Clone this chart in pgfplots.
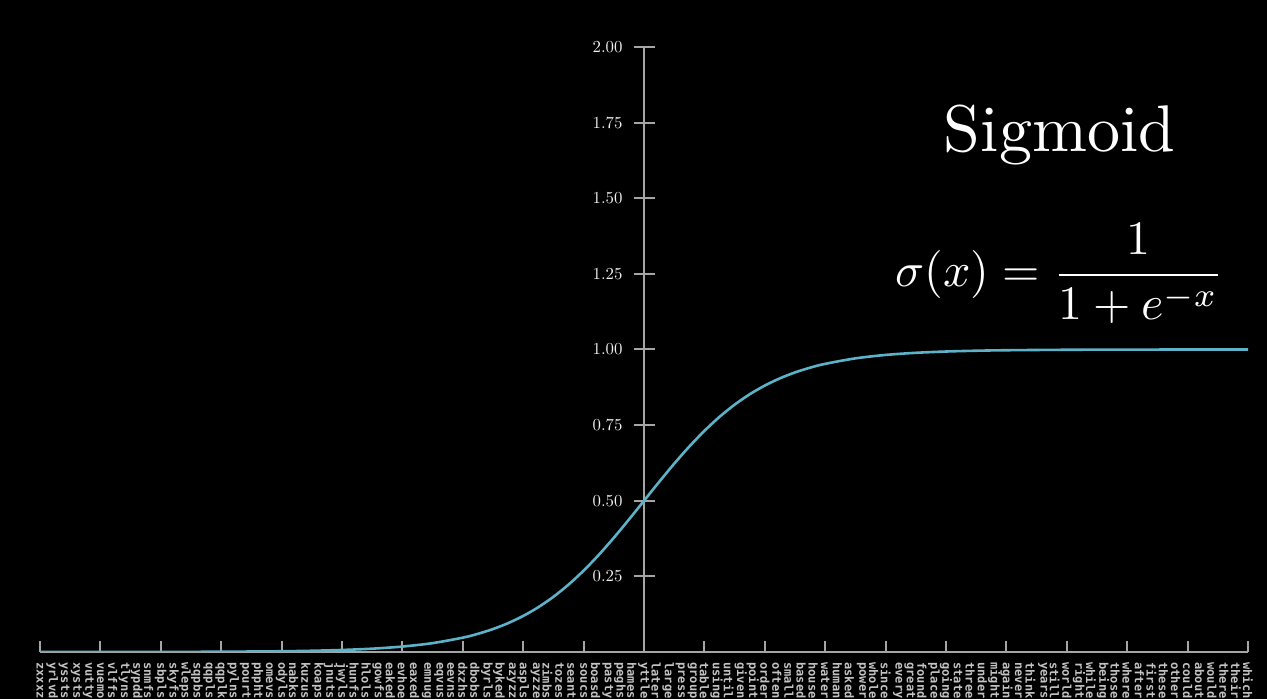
\documentclass[border=0pt]{standalone}
\usepackage{pgfplots}
\pgfplotsset{compat=1.18}
\usepackage{fontspec}
\newfontfamily\wordfont{DejaVu Sans Mono}
\definecolor{sigblue}{RGB}{92,178,200}
\definecolor{axisgray}{RGB}{165,165,165}
\definecolor{wordgray}{RGB}{195,195,195}

\begin{document}
\begin{tikzpicture}
\fill[black] (0,0) rectangle (633.5pt,349.5pt);
\path[use as bounding box] (0,0) rectangle (633.5pt,349.5pt);
\begin{axis}[
  at={(20pt,23.5pt)}, anchor=south west,
  scale only axis, width=604pt, height=302.5pt,
  xmin=-10, xmax=10, ymin=0, ymax=2,
  axis lines=middle,
  axis line style={axisgray, line width=1pt, -},
  every tick/.style={axisgray, line width=1pt},
  hide obscured x ticks=false,
  major tick length=10.5pt,
  minor tick length=5.5pt,
  ytick align=center,
  xtick align=inside,
  major x tick style={draw=none},
  minor xtick={-10,...,10},
  xtick={-10,-9.8,-9.6,-9.4,-9.2,-9,-8.8,-8.6,-8.4,-8.2,
    -8,-7.8,-7.6,-7.4,-7.2,-7,-6.8,-6.6,-6.4,-6.2,
    -6,-5.8,-5.6,-5.4,-5.2,-5,-4.8,-4.6,-4.4,-4.2,
    -4,-3.8,-3.6,-3.4,-3.2,-3,-2.8,-2.6,-2.4,-2.2,
    -2,-1.8,-1.6,-1.4,-1.2,-1,-0.8,-0.6,-0.4,-0.2,
    0,0.2,0.4,0.6,0.8,1,1.2,1.4,1.6,1.8,
    2,2.2,2.4,2.6,2.8,3,3.2,3.4,3.6,3.8,
    4,4.2,4.4,4.6,4.8,5,5.2,5.4,5.6,5.8,
    6,6.2,6.4,6.6,6.8,7,7.2,7.4,7.6,7.8,
    8,8.2,8.4,8.6,8.8,9,9.2,9.4,9.6,9.8,10},
  xticklabels={zxxxz,yrlvd,yssts,xysts,vutty,vuemo,vlffs,tlyns,sypdd,snmfs,
    sbpls,skyfs,wleps,sqpbs,qqpls,qqplk,pylns,pourt,phpht,omevs,
    odyls,nabks,kuzus,koaps,jnuts,jwyls,hunfs,hlols,gowfs,eaked,
    evhoe,eaxed,emnug,eqvus,eevns,dxzhs,dbobs,byrls,byked,azyzz,
    aspls,ayzze,zimbs,tozes,seant,soucs,boasd,pasty,peghs,hames,
    yttle,later,large,press,group,table,using,until,given,point,
    order,often,small,based,house,water,human,asked,power,whole,
    since,every,great,found,place,going,state,three,under,might,
    again,never,think,years,still,world,right,while,being,those,
    where,after,first,these,other,could,about,would,there,their,which},
  xticklabel style={rotate=-90, anchor=west, inner sep=0pt,
    font=\wordfont\bfseries\fontsize{6}{7}\selectfont, text=wordgray},
  xticklabel shift=5pt,
  ytick={0.25,0.5,0.75,1,1.25,1.5,1.75,2},
  yticklabel style={font=\fontsize{10}{12}\selectfont, scale=0.84, text=white!94!black,
    /pgf/number format/fixed, /pgf/number format/fixed zerofill,
    /pgf/number format/precision=2, xshift=-3pt},
]
\addplot[sigblue, line width=1.3pt, smooth] coordinates {
  (-10,0.0000454)(-9,0.000123)(-8,0.000335)(-7,0.000911)(-6,0.002473)
  (-5.5,0.004070)(-5,0.006693)(-4.5,0.010987)(-4,0.017986)(-3.5,0.029312)
  (-3,0.047426)(-2.75,0.060087)(-2.5,0.075858)(-2.25,0.095349)(-2,0.119203)
  (-1.75,0.148047)(-1.5,0.182426)(-1.25,0.222700)(-1,0.268941)(-0.75,0.320821)
  (-0.5,0.377541)(-0.25,0.437823)(0,0.5)(0.25,0.562177)(0.5,0.622459)
  (0.75,0.679179)(1,0.731059)(1.25,0.777300)(1.5,0.817574)(1.75,0.851953)
  (2,0.880797)(2.25,0.904651)(2.5,0.924142)(2.75,0.939913)(3,0.952574)
  (3.5,0.970688)(4,0.982014)(4.5,0.989013)(5,0.993307)(5.5,0.995930)
  (6,0.997527)(7,0.999089)(8,0.999665)(9,0.999877)(10,0.999955)
};
\end{axis}
\node[white, anchor=base, font=\fontsize{10}{12}\selectfont, scale=3.3, transform shape]
  at (529.75pt,273.5pt) {Sigmoid};
\node[white, anchor=base, font=\fontsize{10}{12}\selectfont, scale=2.4, transform shape]
  at (529.75pt,206pt) {$\displaystyle \sigma(x)=\frac{1}{1+e^{-x}}$};
\end{tikzpicture}
\end{document}
